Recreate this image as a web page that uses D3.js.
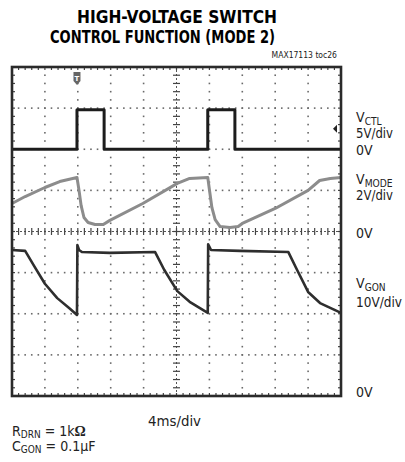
<!DOCTYPE html>
<html>
<head>
<meta charset="utf-8">
<script src="https://cdn.jsdelivr.net/npm/d3@7"></script>
<style>
  body { margin: 0; background: #fff; }
  svg { display: block; }
  .narrow { font-family: "Liberation Sans Narrow", "DejaVu Sans Condensed", "Arial Narrow", sans-serif; }
</style>
</head>
<body>
<svg width="405" height="462"></svg>
<script>
// -------------------- DATA --------------------
// time in ms (4ms/div, 10 divisions), values in volts
const ctlTime = [0, 7.9, 7.9, 11.2, 11.2, 23.8, 23.8, 27.1, 27.1, 40];
const ctlVolt = [0, 0, 4.8, 4.8, 0, 0, 4.8, 4.8, 0, 0];

const modeTime = [0, 1.6, 4.0, 5.8, 7.9, 8.15, 8.4, 8.75, 9.25, 10.1, 11.1, 11.9, 15.9, 20.1, 21.6, 23.8,
  24.05, 24.3, 24.7, 25.3, 26.5, 27.5, 28.0, 32.0, 36.0, 37.4, 38.7, 40];
const modeVolt = [1.36, 1.70, 2.14, 2.43, 2.63, 2.0, 1.27, 0.68, 0.44, 0.34, 0.34, 0.54, 1.36, 2.34, 2.58, 2.63,
  1.90, 1.17, 0.58, 0.24, 0.20, 0.24, 0.39, 1.12, 2.0, 2.48, 2.58, 2.63];

const gonTime = [0, 1.6, 2.7, 4.0, 5.5, 7.05, 7.9, 7.95, 8.15, 8.5, 11.9, 17.4, 18.5, 20.1, 21.6, 23.8,
  23.85, 24.2, 27.7, 33.6, 34.65, 36.0, 37.45, 40];
const gonVolt = [35.5, 35.3, 31.6, 27.3, 23.8, 21.2, 19.7, 36.7, 35.5, 35.0, 34.8, 35.0, 30.7, 25.5, 22.9, 20.2,
  36.9, 35.5, 35.3, 35.0, 30.7, 25.3, 22.6, 20.2];

// channel: ground level (divisions from bottom) and volts per division
const channels = [
  { name: "CTL", time: ctlTime, volt: ctlVolt, ground: 6, perDiv: 5, color: "#1c1c1c", width: 3 },
  { name: "MODE", time: modeTime, volt: modeVolt, ground: 4, perDiv: 2, color: "#8c8c8c", width: 3 },
  { name: "GON", time: gonTime, volt: gonVolt, ground: 0, perDiv: 10, color: "#2e2e2e", width: 2.6 }
];

const xDivs = 10, yDivs = 8, msPerDiv = 4;

// -------------------- SCALES --------------------
const svg = d3.select("svg");
const plotL = 12, plotR = 341, plotT = 67, plotB = 396;
const xDiv = d3.scaleLinear().domain([0, xDivs]).range([plotL, plotR]);
const yDiv = d3.scaleLinear().domain([0, yDivs]).range([plotB, plotT]);
const xTime = d3.scaleLinear().domain([0, xDivs * msPerDiv]).range([plotL, plotR]);

// -------------------- GRID --------------------
const grid = svg.append("g");
const dotColor = "#6a6a6a";

// dotted grid lines (dots every 0.2 div)
d3.range(1, xDivs).forEach(i => {
  if (i === 5) return;
  d3.range(0, yDivs * 5 + 1).forEach(k => {
    grid.append("rect")
      .attr("x", xDiv(i) - 0.8).attr("y", yDiv(k / 5) - 0.8)
      .attr("width", 1.6).attr("height", 1.6)
      .attr("fill", dotColor);
  });
});
d3.range(1, yDivs).forEach(j => {
  if (j === 4) return;
  d3.range(0, xDivs * 5 + 1).forEach(k => {
    grid.append("rect")
      .attr("x", xDiv(k / 5) - 0.8).attr("y", yDiv(j) - 0.8)
      .attr("width", 1.6).attr("height", 1.6)
      .attr("fill", dotColor);
  });
});

// center axes with minor ticks
grid.append("line")
  .attr("x1", xDiv(0)).attr("x2", xDiv(xDivs))
  .attr("y1", yDiv(4)).attr("y2", yDiv(4))
  .attr("stroke", "#555").attr("stroke-width", 1).attr("stroke-dasharray", "2,2");
grid.append("line")
  .attr("x1", xDiv(5)).attr("x2", xDiv(5))
  .attr("y1", yDiv(0)).attr("y2", yDiv(yDivs))
  .attr("stroke", "#555").attr("stroke-width", 1).attr("stroke-dasharray", "2,2");
d3.range(0, xDivs * 5 + 1).forEach(k => {
  grid.append("line")
    .attr("x1", xDiv(k / 5)).attr("x2", xDiv(k / 5))
    .attr("y1", yDiv(4) - 3.5).attr("y2", yDiv(4) + 3.5)
    .attr("stroke", "#444").attr("stroke-width", 1.2);
  // ticks on top and bottom frame
  grid.append("line")
    .attr("x1", xDiv(k / 5)).attr("x2", xDiv(k / 5))
    .attr("y1", yDiv(yDivs)).attr("y2", yDiv(yDivs) + 3)
    .attr("stroke", "#444").attr("stroke-width", 1.2);
  grid.append("line")
    .attr("x1", xDiv(k / 5)).attr("x2", xDiv(k / 5))
    .attr("y1", yDiv(0)).attr("y2", yDiv(0) - 3)
    .attr("stroke", "#444").attr("stroke-width", 1.2);
});
d3.range(0, yDivs * 5 + 1).forEach(k => {
  grid.append("line")
    .attr("x1", xDiv(5) - 3.5).attr("x2", xDiv(5) + 3.5)
    .attr("y1", yDiv(k / 5)).attr("y2", yDiv(k / 5))
    .attr("stroke", "#444").attr("stroke-width", 1.2);
  grid.append("line")
    .attr("x1", xDiv(0)).attr("x2", xDiv(0) + 3)
    .attr("y1", yDiv(k / 5)).attr("y2", yDiv(k / 5))
    .attr("stroke", "#444").attr("stroke-width", 1.2);
  grid.append("line")
    .attr("x1", xDiv(xDivs)).attr("x2", xDiv(xDivs) - 3)
    .attr("y1", yDiv(k / 5)).attr("y2", yDiv(k / 5))
    .attr("stroke", "#444").attr("stroke-width", 1.2);
});

// -------------------- TRACES --------------------
channels.forEach(ch => {
  const pts = ch.time.map((t, i) => [xTime(t), yDiv(ch.ground + ch.volt[i] / ch.perDiv)]);
  svg.append("path")
    .attr("d", d3.line()(pts))
    .attr("fill", "none")
    .attr("stroke", ch.color)
    .attr("stroke-width", ch.width)
    .attr("stroke-linejoin", "round");
});

// frame
svg.append("rect")
  .attr("x", plotL).attr("y", plotT)
  .attr("width", plotR - plotL).attr("height", plotB - plotT)
  .attr("fill", "none").attr("stroke", "#2a2a2a").attr("stroke-width", 2.6);

// trigger position marker
const tx = xTime(ctlTime[1]);
svg.append("path")
  .attr("d", `M${tx - 3.5},72 L${tx + 3.5},72 L${tx + 3.5},81 L${tx},85 L${tx - 3.5},81 Z`)
  .attr("fill", "#666");
svg.append("text")
  .attr("x", tx).attr("y", 80.5)
  .attr("text-anchor", "middle")
  .attr("font-family", "DejaVu Sans, sans-serif")
  .attr("font-size", 7).attr("font-weight", "bold")
  .attr("fill", "#fff")
  .text("T");

// trigger level marker
svg.append("path")
  .attr("d", `M${plotR - 8},${yDiv(6.5)} L${plotR - 4},${yDiv(6.5) - 4} L${plotR - 4},${yDiv(6.5) + 4} Z`)
  .attr("fill", "#222");

// -------------------- TEXT --------------------
svg.append("text").attr("class", "narrow")
  .attr("x", 77).attr("y", 23)
  .attr("font-size", 17).attr("font-weight", "bold")
  .attr("textLength", 200).attr("lengthAdjust", "spacingAndGlyphs")
  .text("HIGH-VOLTAGE SWITCH");
svg.append("text").attr("class", "narrow")
  .attr("x", 50).attr("y", 43)
  .attr("font-size", 17).attr("font-weight", "bold")
  .attr("textLength", 225).attr("lengthAdjust", "spacingAndGlyphs")
  .text("CONTROL FUNCTION (MODE 2)");
svg.append("text").attr("class", "narrow")
  .attr("x", 337).attr("y", 58)
  .attr("text-anchor", "end")
  .attr("font-size", 8.5).attr("fill", "#222")
  .text("MAX17113 toc26");

// channel labels
const labelX = 356;
function chLabel(sub, subLen, yV, perDivText, perLen, yDivText) {
  const t = svg.append("text").attr("class", "narrow")
    .attr("x", labelX).attr("y", yV).attr("font-size", 14).attr("fill", "#222");
  t.append("tspan").text("V");
  t.append("tspan").attr("font-size", 10).attr("dy", 2.5)
    .attr("textLength", subLen).attr("lengthAdjust", "spacingAndGlyphs").text(sub);
  svg.append("text").attr("class", "narrow")
    .attr("x", labelX).attr("y", yDivText).attr("font-size", 14).attr("fill", "#222")
    .attr("textLength", perLen).attr("lengthAdjust", "spacingAndGlyphs")
    .text(perDivText);
}
chLabel("CTL", 17, 122, "5V/div", 37, 138);
chLabel("MODE", 28, 184, "2V/div", 37, 200);
chLabel("GON", 21, 288, "10V/div", 46, 307);

[155, 238, 397].forEach(y => {
  svg.append("text").attr("class", "narrow")
    .attr("x", labelX).attr("y", y).attr("font-size", 14).attr("fill", "#222")
    .text("0V");
});

svg.append("text").attr("class", "narrow")
  .attr("x", 148).attr("y", 426).attr("font-size", 14).attr("fill", "#222")
  .attr("textLength", 53).attr("lengthAdjust", "spacingAndGlyphs")
  .text("4ms/div");

const r = svg.append("text").attr("class", "narrow")
  .attr("x", 12).attr("y", 436).attr("font-size", 14).attr("fill", "#222");
r.append("tspan").text("R");
r.append("tspan").attr("font-size", 10).attr("dy", 2).text("DRN");
r.append("tspan").attr("dy", -2).text(" = 1k");
r.append("tspan").attr("font-family", "Liberation Serif, serif").attr("font-weight", "bold").text("Ω");

const c = svg.append("text").attr("class", "narrow")
  .attr("x", 12).attr("y", 451).attr("font-size", 14).attr("fill", "#222");
c.append("tspan").text("C");
c.append("tspan").attr("font-size", 10).attr("dy", 2).text("GON");
c.append("tspan").attr("dy", -2).text(" = 0.1μF");
</script>
</body>
</html>
